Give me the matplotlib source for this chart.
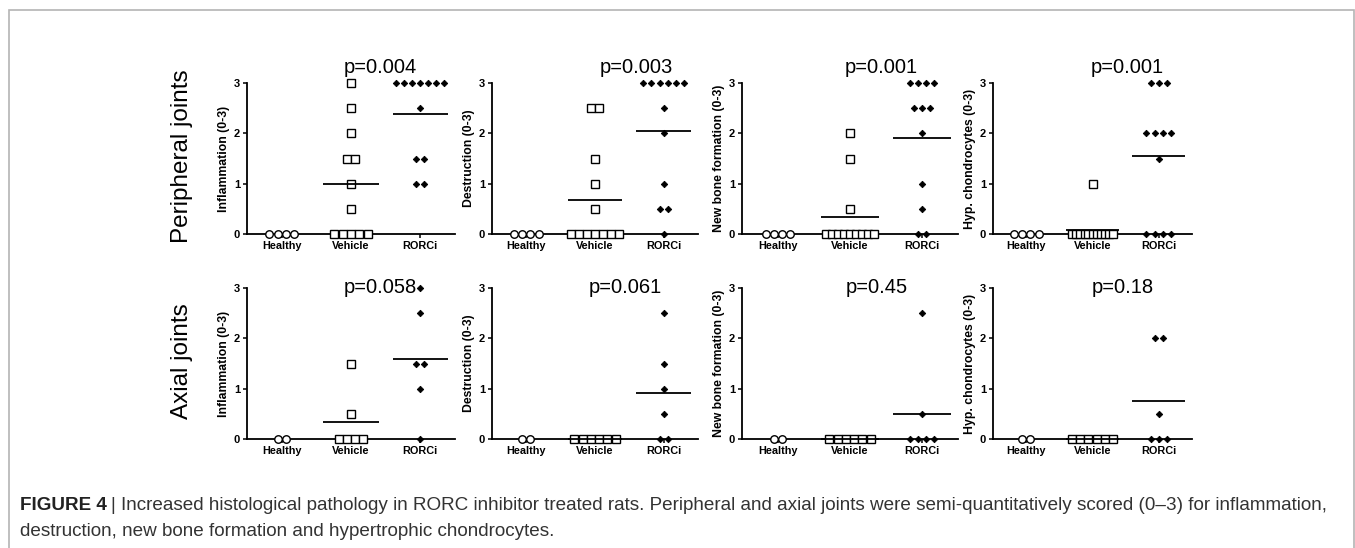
import matplotlib
matplotlib.use('Agg')
import matplotlib.pyplot as plt
from matplotlib.patches import Rectangle

plt.rcParams['font.family'] = ['Liberation Sans', 'DejaVu Sans']

# ── data ──────────────────────────────────────────────────────────
groups = ['Healthy', 'Vehicle', 'RORCi']
ylabels = ['Inflammation (0-3)', 'Destruction (0-3)',
           'New bone formation (0-3)', 'Hyp. chondrocytes (0-3)']
row_titles = ['Peripheral joints', 'Axial joints']
p_peripheral = ['p=0.004', 'p=0.003', 'p=0.001', 'p=0.001']
p_axial = ['p=0.058', 'p=0.061', 'p=0.45', 'p=0.18']

# peripheral joints
healthy_per = [0, 0, 0, 0]
veh_per_inflam = [3, 2.5, 2, 1.5, 1.5, 1, 0.5, 0, 0, 0, 0, 0]
ror_per_inflam = [3, 3, 3, 3, 3, 3, 3, 2.5, 1.5, 1.5, 1, 1]
veh_per_destr = [2.5, 2.5, 1.5, 1, 0.5, 0, 0, 0, 0, 0, 0, 0]
ror_per_destr = [3, 3, 3, 3, 3, 3, 2.5, 2, 1, 0.5, 0.5, 0]
veh_per_bone = [2, 1.5, 0.5, 0, 0, 0, 0, 0, 0, 0, 0, 0]
ror_per_bone = [3, 3, 3, 3, 2.5, 2.5, 2.5, 2, 1, 0.5, 0, 0]
veh_per_hyp = [1, 0, 0, 0, 0, 0, 0, 0, 0, 0, 0, 0]
ror_per_hyp = [3, 3, 3, 2, 2, 2, 2, 1.5, 0, 0, 0, 0]

# axial joints
healthy_ax = [0, 0]
veh_ax_inflam = [1.5, 0.5, 0, 0, 0, 0]
ror_ax_inflam = [3, 2.5, 1.5, 1.5, 1, 0]
veh_ax_destr = [0, 0, 0, 0, 0, 0]
ror_ax_destr = [2.5, 1.5, 1, 0.5, 0, 0]
veh_ax_bone = [0, 0, 0, 0, 0, 0]
ror_ax_bone = [2.5, 0.5, 0, 0, 0, 0]
veh_ax_hyp = [0, 0, 0, 0, 0, 0]
ror_ax_hyp = [2, 2, 0.5, 0, 0, 0]

rows = [
    [(healthy_per, veh_per_inflam, ror_per_inflam),
     (healthy_per, veh_per_destr, ror_per_destr),
     (healthy_per, veh_per_bone, ror_per_bone),
     (healthy_per, veh_per_hyp, ror_per_hyp)],
    [(healthy_ax, veh_ax_inflam, ror_ax_inflam),
     (healthy_ax, veh_ax_destr, ror_ax_destr),
     (healthy_ax, veh_ax_bone, ror_ax_bone),
     (healthy_ax, veh_ax_hyp, ror_ax_hyp)],
]
p_rows = [p_peripheral, p_axial]

# ── layout ────────────────────────────────────────────────────────
W, H = 1355, 548
col_x = [247, 492, 742, 993]
col_w = [208, 206, 216, 199]
row_y0 = [234, 439]          # pixel y of value 0
row_h = 151
p_xpos = [[1.42, 1.6, 1.44, 1.52], [1.42, 1.44, 1.37, 1.45]]
p_ypos = [3.2, 2.9]

markers = [dict(marker='o', mfc='white', mec='black', ms=5.4, mew=1.0),
           dict(marker='s', mfc='white', mec='black', ms=5.6, mew=1.0),
           dict(marker='D', mfc='black', mec='black', ms=3.3, mew=0.6)]


def spread(values, step_px, px_per_unit):
    """GraphPad-like horizontal spread of tied values."""
    xs, ys = [], []
    for v in sorted(set(values), reverse=True):
        k = values.count(v)
        max_px = 48.0 if k <= 9 else 40.0
        step = step_px if k < 2 else min(step_px, max_px / (k - 1))
        for i in range(k):
            xs.append((i - (k - 1) / 2) * step / px_per_unit)
            ys.append(v)
    return xs, ys


fig = plt.figure(figsize=(W / 100, H / 100), dpi=100)
fig.patch.set_facecolor('white')

# outer frame
fig.add_artist(Rectangle((9 / W, -0.05), (1354 - 9) / W, (H - 10) / H + 0.05,
                         transform=fig.transFigure, fill=False,
                         edgecolor='#b4b4b4', linewidth=1.2))

for r in range(2):
    for c in range(4):
        left = col_x[c] / W
        bottom = (H - row_y0[r]) / H
        ax = fig.add_axes([left, bottom, col_w[c] / W, row_h / H])
        ppu = col_w[c] / 3.0
        for g, vals in enumerate(rows[r][c]):
            dx, ys = spread(list(vals), 8.3, ppu)
            ax.plot([g + d for d in dx], ys, linestyle='none',
                    clip_on=False, zorder=4, **markers[g])
            if g > 0:
                m = sum(vals) / len(vals)
                ax.hlines(m, g - 0.4, g + 0.4, color='black', lw=1.3,
                          zorder=5, clip_on=False)
        ax.set_xlim(-0.5, 2.5)
        ax.set_ylim(0, 3)
        ax.set_yticks([0, 1, 2, 3])
        ax.set_yticklabels(['0', '1', '2', '3'], fontweight='bold', fontsize=8)
        ax.set_xticks([0, 1, 2])
        ax.set_xticklabels(groups, fontweight='bold', fontsize=7.8)
        ax.tick_params(axis='both', direction='out', length=3, width=1.1,
                       pad=2)
        ax.spines['top'].set_visible(False)
        ax.spines['right'].set_visible(False)
        for s in ('left', 'bottom'):
            ax.spines[s].set_linewidth(1.3)
        ax.set_ylabel(ylabels[c], fontweight='bold', fontsize=8.8, labelpad=3)
        ax.text(p_xpos[r][c], p_ypos[r], p_rows[r][c], ha='center',
                va='baseline', fontsize=14.5, color='black')

# row labels
fig.text(182 / W, 1 - 156 / H, row_titles[0], rotation=90, ha='center',
         va='center', fontsize=17.5)
fig.text(182 / W, 1 - 361 / H, row_titles[1], rotation=90, ha='center',
         va='center', fontsize=17.5)

# caption
cap_size = 13.55
t1 = fig.text(20 / W, 1 - 506 / H, 'FIGURE 4', fontweight='bold',
              fontsize=cap_size, color='#222222', va='center')
fig.canvas.draw()
bb = t1.get_window_extent()
fig.text((bb.x1 + 4) / W, 1 - 506 / H,
         '| Increased histological pathology in RORC inhibitor treated rats. '
         'Peripheral and axial joints were semi-quantitatively scored (0\u20133) '
         'for inflammation,', fontsize=cap_size, color='#333333',
         va='center')
fig.text(20 / W, 1 - 531 / H,
         'destruction, new bone formation and hypertrophic chondrocytes.',
         fontsize=cap_size, color='#333333', va='center')

plt.savefig('out.png', dpi=100, facecolor='white')
